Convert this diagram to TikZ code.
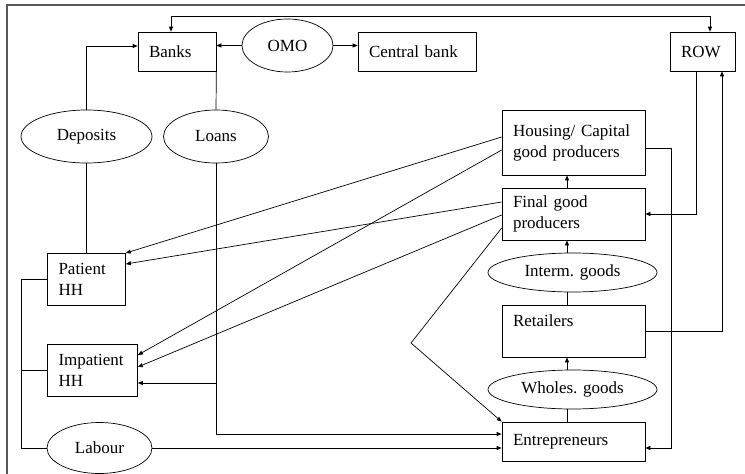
\documentclass[tikz,border=0pt]{standalone}
\usepackage{fontspec}
\setmainfont{Liberation Serif}
\usetikzlibrary{arrows.meta,shapes.geometric}

\begin{document}
\begin{tikzpicture}[x=1pt,y=-1pt,font=\fontsize{17}{21}\selectfont,line width=0.7pt,
  >={Triangle[length=5pt,width=4pt]},
  box/.style 2 args={draw,align=left,inner xsep=11pt,inner ysep=0pt,text width=#1,minimum height=#2},
  oval/.style 2 args={draw,ellipse,inner sep=0pt,minimum width=#1,minimum height=#2}]
  \useasboundingbox (0,0) rectangle (745,474);
  \draw[gray!70!black,line width=1.2pt] (7,474) -- (7,5) -- (745,5);
  \node[box={56pt}{39pt}] (banks) at (177,51.5) {Banks};
  \node[oval={91pt}{53pt}] (omo) at (287.5,45.5) {OMO};
  \node[box={96pt}{39pt}] (cb) at (417,51.5) {Central bank};
  \node[box={43pt}{39pt}] (row) at (702.5,51.5) {ROW};
  \node[oval={131pt}{53pt}] (dep) at (86.5,136.5) {Deposits};
  \node[oval={105pt}{53pt}] (loans) at (216,136.5) {Loans};
  \node[box={121pt}{65pt}] (house) at (573.5,142.5) {Housing/ Capital\\good producers};
  \node[box={121pt}{52pt}] (final) at (573.5,214) {Final good\\producers};
  \node[oval={169pt}{39pt}] (interm) at (572.5,272.5) {Interm. goods};
  \node[box={121pt}{52pt}] (retail) at (573.5,331) {Retailers\\\mbox{}};
  \node[oval={169pt}{39pt}] (wholes) at (572.5,389.5) {Wholes. goods};
  \node[box={121pt}{39pt}] (entre) at (573.5,441.5) {Entrepreneurs};
  \node[box={56pt}{52pt}] (pat) at (86.5,279) {Patient\\HH};
  \node[box={68pt}{52pt}] (imp) at (92.5,370) {Impatient\\HH};
  \node[oval={105pt}{51pt}] (lab) at (99.5,448) {Labour};
  \coordinate (tl) at (171,16); \coordinate (tr) at (710,16);
  \coordinate (dp) at (86.5,46);
  \coordinate (le) at (216,434); \coordinate (li) at (216,383);
  \coordinate (lt) at (21,279); \coordinate (lb) at (21,448);
  \coordinate (vx) at (567,0);
  \coordinate (rw1) at (696,0); \coordinate (rw2) at (722,0); \coordinate (hx) at (671,0);
  \coordinate (hy) at (0,148); \coordinate (ey) at (0,448);
  \coordinate (kink) at (411,343);
  \draw[<->] (banks.north -| tl) -- (tl) -- (tr) -- (row.north -| tr);
  \draw[->] (omo.west) -- (omo.west -| banks.east);
  \draw[->] (omo.east) -- (omo.east -| cb.west);
  \draw[->] (dep.north) -- (dp) -- (dp -| banks.west);
  \draw (dep.south) -- (pat.north);
  \draw (banks.south east) -- (loans.north);
  \draw[->] (loans.south) -- (le) -- (le -| entre.west);
  \draw[->] (li) -- (li -| imp.east);
  \draw (pat.west) -- (lt) -- (lb) -- (lab.west);
  \draw (imp.west) -- (imp.west -| lt);
  \draw[->] (lab.east) -- (lab.east -| entre.west);
  \draw[->] (final.north -| vx) -- (house.south -| vx);
  \draw[->] (interm.north -| vx) -- (final.south -| vx);
  \draw (retail.north -| vx) -- (interm.south -| vx);
  \draw[->] (wholes.north -| vx) -- (retail.south -| vx);
  \draw (entre.north -| vx) -- (wholes.south -| vx);
  \draw[->] (row.south -| rw1) |- (final.east);
  \draw[->] (retail.east) -| (row.south -| rw2);
  \draw[->] (house.east |- hy) -- (hx |- hy) -- (hx |- ey) -- (entre.east |- ey);
  \foreach \s/\sy/\t/\ty in {house/137/pat/253,house/150/imp/355,final/202/pat/264,final/215/imp/367}
    \draw[->] (\s.west |- 0,\sy) -- (\t.east |- 0,\ty);
  \draw[->] (final.west |- 0,228) -- (kink) -- (entre.north west);
\end{tikzpicture}
\end{document}
